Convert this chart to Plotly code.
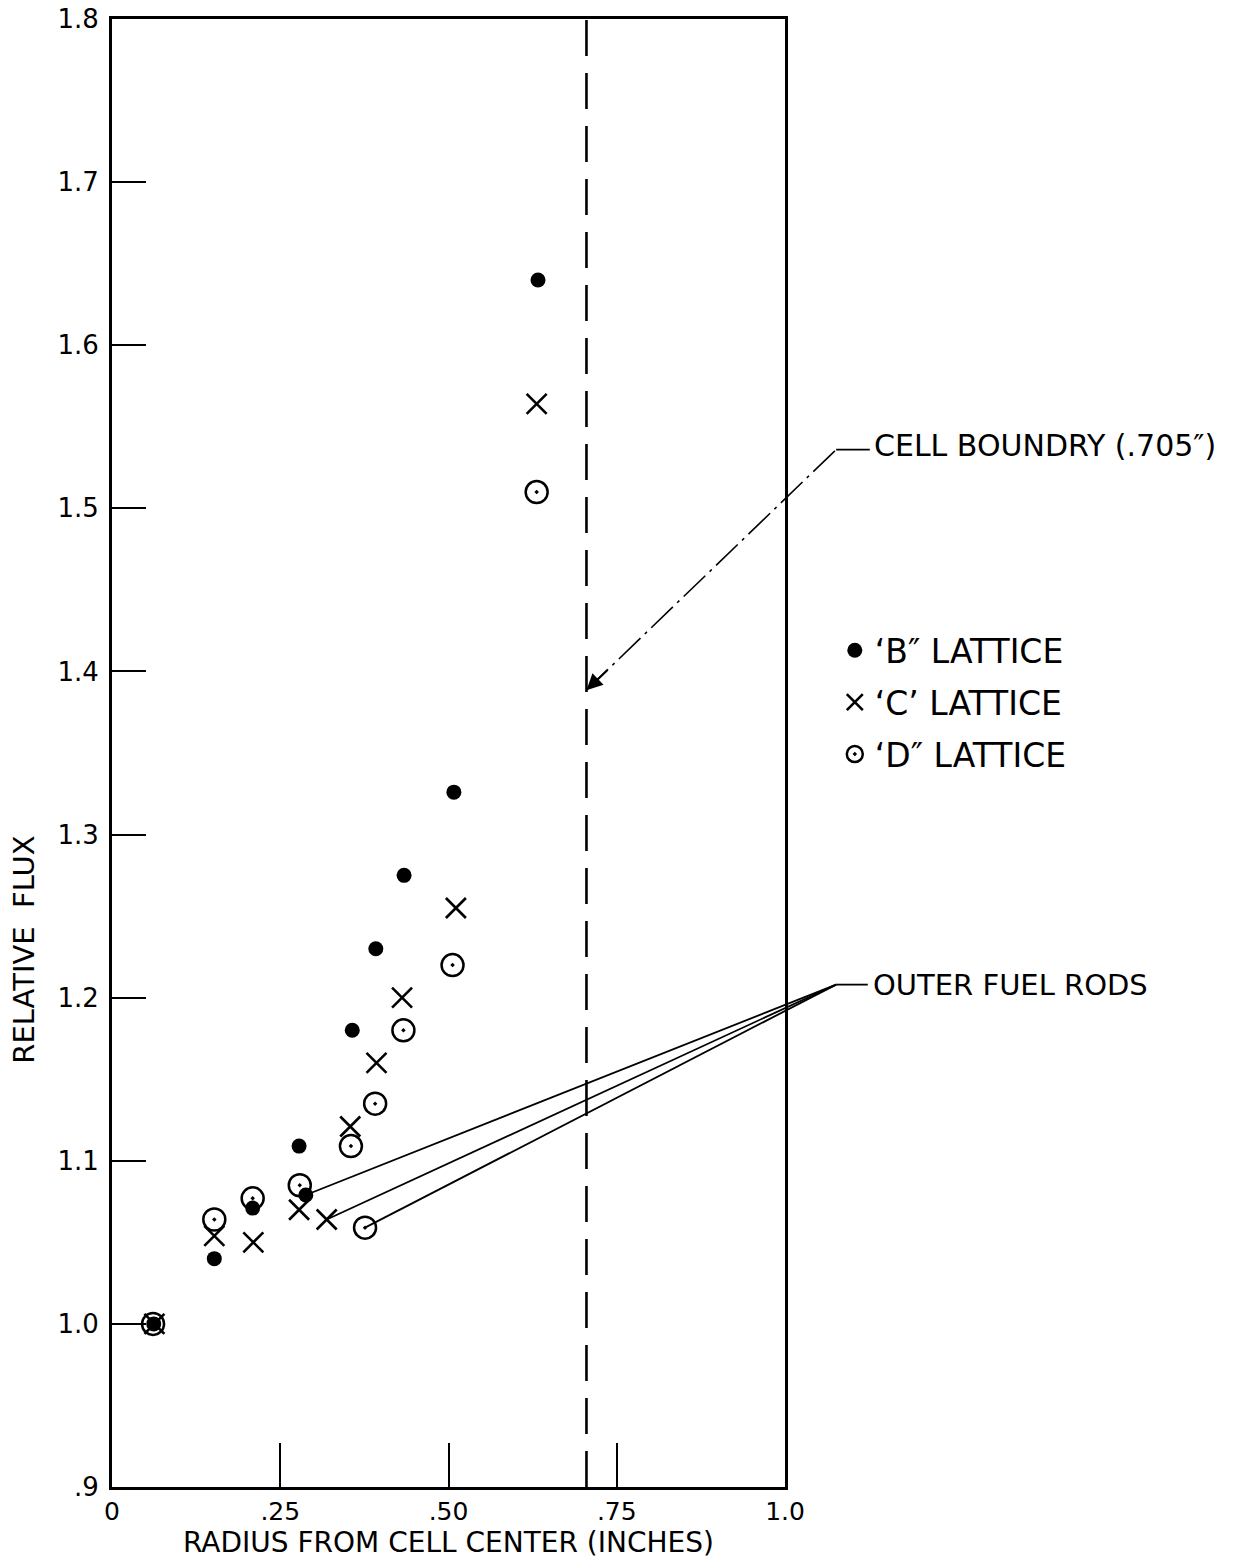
import plotly.graph_objects as go

# ---------------- data ----------------
b_x = [0.062, 0.152, 0.209, 0.278, 0.288, 0.357, 0.392, 0.434, 0.508, 0.633]
b_y = [1.000, 1.040, 1.071, 1.109, 1.079, 1.180, 1.230, 1.275, 1.326, 1.640]

c_x = [0.063, 0.152, 0.210, 0.278, 0.319, 0.354, 0.393, 0.431, 0.511, 0.631]
c_y = [1.000, 1.054, 1.050, 1.070, 1.064, 1.121, 1.160, 1.200, 1.255, 1.564]

d_x = [0.061, 0.152, 0.209, 0.279, 0.355, 0.376, 0.391, 0.433, 0.506, 0.631]
d_y = [1.000, 1.064, 1.077, 1.085, 1.109, 1.059, 1.135, 1.180, 1.220, 1.510]

series_names = ["\u2018B\u2033 LATTICE", "\u2018C\u2019 LATTICE", "\u2018D\u2033 LATTICE"]

# outer fuel rod points (index into each series)
outer_idx = {"B": 4, "C": 4, "D": 5}

cell_boundary = 0.705

x_tickvals = [0, 0.25, 0.5, 0.75, 1.0]
x_ticktext = ["0", ".25", ".50", ".75", "1.0"]
y_tickvals = [0.9, 1.0, 1.1, 1.2, 1.3, 1.4, 1.5, 1.6, 1.7, 1.8]
y_ticktext = [".9", "1.0", "1.1", "1.2", "1.3", "1.4", "1.5", "1.6", "1.7", "1.8"]

X_RANGE = [0, 1.0]
Y_RANGE = [0.9, 1.8]

# annotation anchor points (in data units, may lie outside the axes)
fuel_label_pt = (1.076, 1.208)
cell_label_pt = (1.076, 1.536)
cell_arrow_y = 1.3885

FONT = "DejaVu Sans"
INK = "black"


def px(x):
    return (x - X_RANGE[0]) / (X_RANGE[1] - X_RANGE[0])


def py(y):
    return (y - Y_RANGE[0]) / (Y_RANGE[1] - Y_RANGE[0])


fig = go.Figure()

fig.add_trace(go.Scatter(
    x=b_x, y=b_y, mode="markers", name=series_names[0], legendgroup="b",
    marker=dict(symbol="circle", size=15, color=INK),
))
fig.add_trace(go.Scatter(
    x=c_x, y=c_y, mode="markers", name=series_names[1], legendgroup="c",
    marker=dict(symbol="x-thin-open", size=20, color=INK, line=dict(width=2.6, color=INK)),
))
fig.add_trace(go.Scatter(
    x=d_x, y=d_y, mode="markers", name=series_names[2], legendgroup="d",
    marker=dict(symbol="circle-open-dot", size=22, color=INK, line=dict(width=2.5, color=INK)),
))

shapes = []
# dashed cell boundary line
shapes.append(dict(type="line", xref="x", yref="paper", x0=cell_boundary, x1=cell_boundary,
                   y0=0, y1=1, line=dict(color=INK, width=2.6, dash="36px,17px"), layer="above"))

# outer fuel rods leader lines
fx, fy = fuel_label_pt
for xs, ys, key in [(b_x, b_y, "B"), (c_x, c_y, "C"), (d_x, d_y, "D")]:
    i = outer_idx[key]
    shapes.append(dict(type="line", xref="paper", yref="paper",
                       x0=px(xs[i]), y0=py(ys[i]), x1=px(fx), y1=py(fy),
                       line=dict(color=INK, width=1.8), layer="below"))
shapes.append(dict(type="line", xref="paper", yref="paper",
                   x0=px(fx), y0=py(fy), x1=px(fx) + 0.047, y1=py(fy),
                   line=dict(color=INK, width=1.8)))

# cell boundary leader line
cx, cy = cell_label_pt
shapes.append(dict(type="line", xref="paper", yref="paper",
                   x0=px(cell_boundary), y0=py(cell_arrow_y), x1=px(cx), y1=py(cy),
                   line=dict(color=INK, width=1.6, dash="30px,6px,3px,6px")))
shapes.append(dict(type="line", xref="paper", yref="paper",
                   x0=px(cx), y0=py(cy), x1=px(cx) + 0.05, y1=py(cy),
                   line=dict(color=INK, width=1.8)))

# arrow tail placed along the leader line direction
t_tail = 0.09
arrow_ax = cell_boundary + t_tail * (cx - cell_boundary)
arrow_ay = cell_arrow_y + t_tail * (cy - cell_arrow_y)

annotations = [
    dict(x=px(fx) + 0.052, y=py(fy), xref="paper", yref="paper", xanchor="left", yanchor="middle",
         text="OUTER FUEL RODS", showarrow=False, font=dict(family=FONT, size=29, color=INK)),
    dict(x=px(cx) + 0.054, y=py(cy) + 0.003, xref="paper", yref="paper", xanchor="left", yanchor="middle",
         text="CELL BOUNDRY (.705\u2033)", showarrow=False, font=dict(family=FONT, size=30, color=INK)),
    # arrowhead at the boundary line
    dict(x=cell_boundary, y=cell_arrow_y, xref="x", yref="y",
         ax=arrow_ax, ay=arrow_ay, axref="x", ayref="y",
         text="", showarrow=True, arrowhead=2, arrowsize=1.6, arrowwidth=2, arrowcolor=INK),
    # y axis title
    dict(x=-0.1308, y=0.366, xref="paper", yref="paper", text="RELATIVE  FLUX", textangle=-90,
         showarrow=False, font=dict(family=FONT, size=29, color=INK), xanchor="center", yanchor="middle"),
]

# the page adds an 8px body margin, so the figure is sized/offset to fit the window
fig.update_layout(
    width=1227, height=1551, autosize=False,
    margin=dict(l=104, r=450, t=11, b=72),
    paper_bgcolor="white", plot_bgcolor="white",
    font=dict(family=FONT, size=26, color=INK),
    shapes=shapes, annotations=annotations,
    showlegend=True,
    legend=dict(x=1.074, y=0.589, xanchor="left", yanchor="top",
                font=dict(family=FONT, size=33, color=INK),
                traceorder="grouped", tracegroupgap=6,
                bgcolor="rgba(0,0,0,0)", borderwidth=0),
)

fig.update_xaxes(
    range=X_RANGE, tickmode="array", tickvals=x_tickvals, ticktext=x_ticktext,
    ticks="inside", ticklen=44, tickwidth=2, tickcolor=INK,
    showline=True, linewidth=3, linecolor=INK, mirror=True,
    showgrid=False, zeroline=False, automargin=False,
    ticklabeloverflow="allow",
    tickfont=dict(family=FONT, size=25, color=INK),
    title=dict(text="RADIUS FROM CELL CENTER (INCHES)", font=dict(family=FONT, size=28, color=INK), standoff=5),
)
fig.update_yaxes(
    range=Y_RANGE, tickmode="array", tickvals=y_tickvals, ticktext=y_ticktext,
    ticks="inside", ticklen=34, tickwidth=2, tickcolor=INK,
    showline=True, linewidth=3, linecolor=INK, mirror=True,
    showgrid=False, zeroline=False, automargin=False,
    ticklabelstandoff=5, ticklabeloverflow="allow",
    tickfont=dict(family=FONT, size=26, color=INK),
)

fig.write_html("out.html")
